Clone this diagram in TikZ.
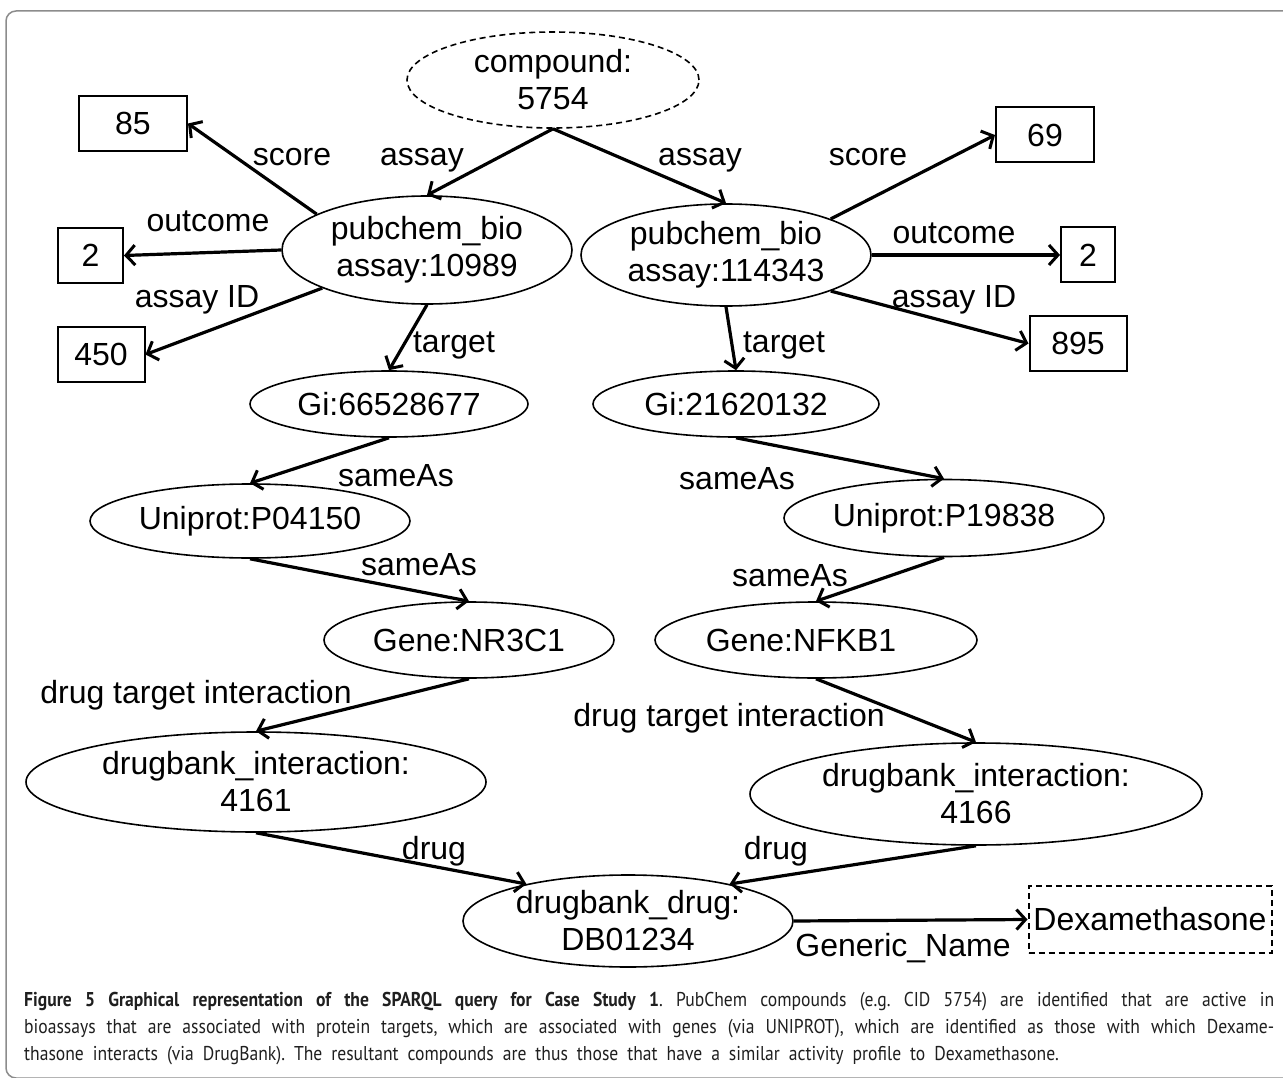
\documentclass[tikz,border=0pt]{standalone}
\usepackage{fontspec}
\setmainfont{Liberation Sans}
\newfontfamily\capfont[FakeStretch=0.88]{PT Sans}
\newcommand\capsetup{\capfont\fontsize{20}{27}\selectfont\frenchspacing\spaceskip=9pt plus 4pt minus 2pt\relax}
\usetikzlibrary{shapes.geometric, arrows.meta, positioning}

\begin{document}
\begin{tikzpicture}[x=1pt, y=-1pt, font=\fontsize{32}{37}\selectfont]
    % styles for the graph
    \tikzstyle{oval} = [draw=black, ellipse, line width=1.6pt, inner sep=0pt, align=center]
    \tikzstyle{box} = [draw=black, rectangle, line width=2pt, inner sep=0pt, minimum height=55pt]
    \tikzstyle{link} = [line width=3.2pt, -{Straight Barb[length=9pt, width=20pt, line width=3pt]}]
    \tikzstyle{lbl} = [anchor=base, inner sep=0pt]
    \tikzstyle{captext} = [anchor=base west, inner sep=0pt, text=black!88, font=\capsetup]

    \useasboundingbox (0,0) rectangle (1283,1078);

    % the rounded frame around the figure
    \draw[black!45, line width=1.5pt, rounded corners=10pt] (6,11) rectangle (1300,1078);

    % the oval nodes of the query graph
    \node[oval, dash pattern=on 6pt off 4pt, minimum width=292pt, minimum height=96pt] (cmp) at (553,80) {compound:\\5754};
    \node[oval, minimum width=290pt, minimum height=108pt] (pbL) at (427,250) {pubchem\_bio\\assay:10989};
    \node[oval, minimum width=290pt, minimum height=102pt] (pbR) at (726,255) {pubchem\_bio\\assay:114343};
    \node[oval, minimum width=278pt, minimum height=66pt] (GiL) at (389,404) {Gi:66528677};
    \node[oval, minimum width=286pt, minimum height=66pt] (GiR) at (736,404) {Gi:21620132};
    \node[oval, minimum width=320pt, minimum height=74pt] (UniL) at (250,521) {Uniprot:P04150};
    \node[oval, minimum width=320pt, minimum height=77pt] (UniR) at (944,518) {Uniprot:P19838};
    \node[oval, minimum width=290pt, minimum height=76pt] (GeneL) at (469,640) {Gene:NR3C1};
    \node[oval, minimum width=322pt, minimum height=76pt] (GeneR) at (816,640) {Gene:NFKB1\hspace*{30pt}};
    \node[oval, minimum width=460pt, minimum height=100pt] (IntL) at (256,782) {drugbank\_interaction:\\4161};
    \node[oval, minimum width=452pt, minimum height=102pt] (IntR) at (976,794) {drugbank\_interaction:\\4166};
    \node[oval, inner ysep=-8pt, minimum width=330pt, minimum height=92pt] (drug) at (628,921) {drugbank\_drug:\\DB01234};

    % the value boxes
    \foreach \name/\x/\y/\w/\txt in {b85/133/123.5/108/85, b2L/90.5/255.5/65/2, b450/101/354.5/87/450,
                                     b69/1045/135/98/69, b2R/1088/255/54/2, b895/1078/343.5/97/895} {
        \node[box, minimum width=\w pt] (\name) at (\x,\y) {\txt};
    }
    \node[box, dash pattern=on 6pt off 4pt, minimum width=243pt, minimum height=67pt] (dexa) at (1150,919.5) {Dexamethasone};

    % draw the arrows between the nodes
    \draw[link] (cmp.south) -- (pbL.north);
    \draw[link] (cmp.south) -- (pbR.north);
    \draw[link] (pbL.162) -- (b85.east);
    \draw[link] (pbL.west) -- (b2L.east);
    \draw[link] (pbL.200) -- (b450.east);
    \draw[link] (pbL.south) -- (GiL.north);
    \draw[link] (pbR.19) -- (b69.west);
    \draw[link] (pbR.east) -- (b2R.west);
    \draw[link] (pbR.-19) -- (b895.west);
    \draw[link] (pbR.south) -- (GiR.north);
    \draw[link] (GiL.south) -- (UniL.north);
    \draw[link] (UniL.south) -- (GeneL.north);
    \draw[link] (GiR.south) -- (UniR.north);
    \draw[link] (UniR.south) -- (GeneR.north);
    \draw[link] (GeneL.south) -- (IntL.north);
    \draw[link] (GeneR.south) -- (IntR.north);
    \draw[link] (IntL.south) -- (drug.160);
    \draw[link] (IntR.south) -- (drug.20);
    \draw[link] (drug.east) -- (dexa.west);

    % the edge labels
    \node[lbl] (lScoreL) at (292,166) {score};
    \node[lbl] (lAssayL) at (422,166) {assay};
    \node[lbl] (lAssayR) at (700,166) {assay};
    \node[lbl] (lScoreR) at (868,166) {score};
    \node[lbl] (lOutL) at (208,232) {outcome};
    \node[lbl] (lOutR) at (954,244) {outcome};
    \node[lbl] (lIdL) at (197,308) {assay ID};
    \node[lbl] (lIdR) at (954,308) {assay ID};
    \node[lbl] (lTgtL) at (454,352) {target};
    \node[lbl] (lTgtR) at (784,352) {target};
    \node[lbl] (lSameL1) at (396,486) {sameAs};
    \node[lbl] (lSameR1) at (737,489) {sameAs};
    \node[lbl] (lSameL2) at (419,575) {sameAs};
    \node[lbl] (lSameR2) at (790,586) {sameAs};
    \node[lbl] (lDtiL) at (196,703) {drug target interaction};
    \node[lbl] (lDtiR) at (729,726) {drug target interaction};
    \node[lbl] (lDrugL) at (434,859) {drug};
    \node[lbl] (lDrugR) at (776,859) {drug};
    \node[lbl] (lName) at (903,956) {Generic\_Name};

    % the caption below the graph
    \node[captext] (capA) at (24,1006) {\makebox[1250pt][s]{\textbf{Figure 5 Graphical representation of the SPARQL query for Case Study 1}. PubChem compounds (e.g. CID 5754) are identified that are active in}};
    \node[captext] (capB) at (24,1033) {\makebox[1250pt][s]{bioassays that are associated with protein targets, which are associated with genes (via UNIPROT), which are identified as those with which Dexame-}};
    \node[captext] (capC) at (24,1060) {thasone interacts (via DrugBank). The resultant compounds are thus those that have a similar activity profile to Dexamethasone.};

\end{tikzpicture}
\end{document}
